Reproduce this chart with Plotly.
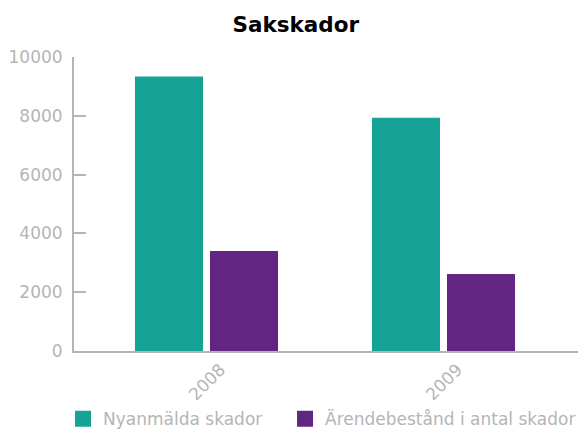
import plotly.graph_objects as go

categories = ["2008", "2009"]
series_names = ["Nyanmälda skador", "Ärendebestånd i antal skador"]
nyanmalda = [9340, 7930]
arendebestand = [3400, 2620]
colors = ["#16A396", "#632582"]
ytick_vals = [0, 2000, 4000, 6000, 8000, 10000]

FONT = "DejaVu Sans"
GRAY = "#b5b5b5"

fig = go.Figure()
legend_ids = ["legend", "legend2"]
for name, vals, col, lg in zip(series_names, [nyanmalda, arendebestand], colors, legend_ids):
    fig.add_trace(go.Bar(x=categories, y=vals, name=name, marker=dict(color=col, line=dict(width=0)),
                         showlegend=False))
    fig.add_trace(go.Scatter(x=[None], y=[None], mode="markers", name=name, legend=lg,
                             marker=dict(symbol="square", size=18, color=col), showlegend=True))

legend_style = dict(orientation="h", xanchor="left", y=-0.232, yanchor="middle",
                    font=dict(family=FONT, size=17, color=GRAY), itemwidth=30,
                    bgcolor="rgba(0,0,0,0)")

# The page body has an 8px margin, so the figure is sized to fit the window without scrolling.
fig.update_layout(
    width=571, height=423,
    margin=dict(l=66, r=1, t=49, b=80, autoexpand=False),
    paper_bgcolor="white", plot_bgcolor="white",
    font=dict(family=FONT, color=GRAY),
    title=dict(text="<b>Sakskador</b>", x=0.504, xanchor="center", y=0.96, yanchor="middle",
               font=dict(family=FONT, size=21.5, color="black")),
    barmode="group", bargap=0.367, bargroupgap=0.093,
    showlegend=True,
    legend=dict(x=-0.0218, **legend_style),
    legend2=dict(x=0.4187, **legend_style),
)
fig.update_xaxes(type="category", range=[-0.559, 1.5675], showline=True, linecolor=GRAY, linewidth=2,
                 ticks="", tickangle=-45, ticklabelshift=14, ticklabelstandoff=0,
                 tickfont=dict(family=FONT, size=17, color=GRAY),
                 showgrid=False, zeroline=False, fixedrange=True, automargin=False)
fig.update_yaxes(range=[0, 10000], tickvals=ytick_vals, tickformat="d", showline=True, linecolor=GRAY,
                 linewidth=2, automargin=False,
                 ticks="inside", ticklen=12, tickwidth=2, tickcolor=GRAY, showgrid=False, zeroline=False,
                 tickfont=dict(family=FONT, size=17, color=GRAY), ticklabelstandoff=6)

fig.write_html("out.html")
